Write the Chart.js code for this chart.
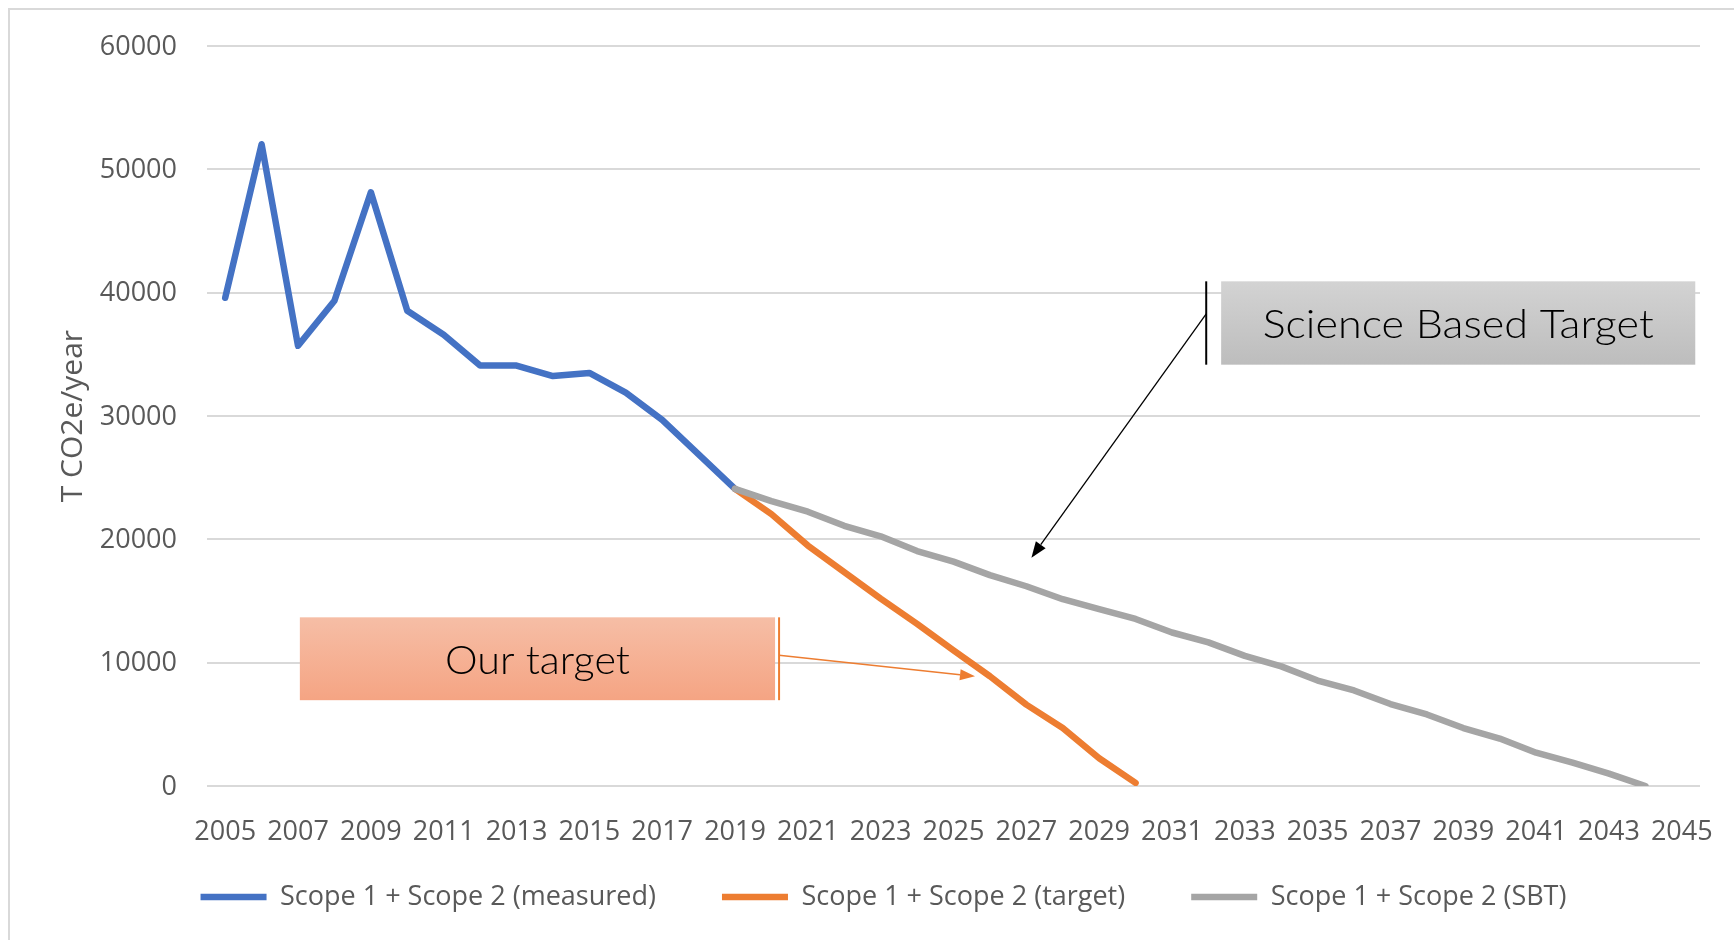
<!DOCTYPE html>
<html><head><meta charset="utf-8">
<script src="https://cdn.jsdelivr.net/npm/chart.js@4.4.1/dist/chart.umd.min.js"></script>
<style>html,body{margin:0;padding:0;background:#fff;overflow:hidden}#wrap{width:1734px;height:940px;position:relative}</style>
</head><body><div id="wrap"><canvas id="c" width="1734" height="940"></canvas></div>
<script>
const years = ['2005','2006','2007','2008','2009','2010','2011','2012','2013','2014','2015','2016','2017','2018','2019','2020','2021','2022','2023','2024','2025','2026','2027','2028','2029','2030','2031','2032','2033','2034','2035','2036','2037','2038','2039','2040','2041','2042','2043','2044','2045'];
const measured = [39600,52050,35700,39350,48150,38550,36600,34100,34100,33250,33500,31900,29700,26900,24100,
  null,null,null,null,null,null,null,null,null,null,null,null,null,null,null,null,null,null,null,null,null,null,null,null,null,null];
const target = [null,null,null,null,null,null,null,null,null,null,null,null,null,null,
  24100,22050,19500,17350,15200,13150,11000,8900,6600,4700,2250,250,
  null,null,null,null,null,null,null,null,null,null,null,null,null,null,null];
const sbt = [null,null,null,null,null,null,null,null,null,null,null,null,null,null,
  24100,23100,22250,21100,20250,19050,18200,17100,16200,15150,14350,13550,12450,11650,10550,9700,8550,7750,6650,5800,4700,3850,2700,1900,1000,0,
  null];
const seriesNames = ['Scope 1 + Scope 2 (measured)','Scope 1 + Scope 2 (target)','Scope 1 + Scope 2 (SBT)'];
const yTicks = {min:0, max:60000, step:10000};
const yTitle = 'T CO2e/year';
const callouts = [
  {text:'Science Based Target', box:[27.35,40.37,40930,34170], bar:26.94, from:[26.94,38300], to:[22.14,18520], fill:['#d3d3d3','#bdbdbd'], line:'#000000', lw:1.3, textW:391, head:[16,12]},
  {text:'Our target', box:[2.05,15.1,13680,6960], bar:15.21, from:[15.21,10610], to:[20.59,8900], fill:['#f6bea6','#f5a483'], line:'#ED7D31', lw:1.5, textW:185, head:[15,11]}
];

const FONT = "'Open Sans', 'Noto Sans', sans-serif";
const GREY = '#595959';
const LEGEND_CENTER_Y = 897;

const frame = {
  id:'frame',
  beforeDraw(chart){
    const ctx = chart.ctx;
    ctx.save();
    ctx.fillStyle = '#ffffff';
    ctx.fillRect(0,0,chart.width,chart.height);
    ctx.strokeStyle = '#d9d9d9';
    ctx.lineWidth = 2;
    ctx.beginPath();
    ctx.moveTo(9, chart.height); ctx.lineTo(9, 9); ctx.lineTo(chart.width, 9);
    ctx.stroke();
    ctx.restore();
  }
};

const legendShift = {
  id:'legendShift',
  afterLayout(chart){
    const L = chart.legend;
    if (!L) return;
    const P = L.options.labels.padding;
    const fs = L.options.labels.font.size;
    const cur = L.top + P + fs/2;
    const dy = LEGEND_CENTER_Y - cur;
    L.top += dy; L.bottom += dy;
  }
};

function arrow(ctx, x0, y0, x1, y1, color, lw, head){
  const ang = Math.atan2(y1-y0, x1-x0);
  const L = head[0], W = head[1]/2;
  const bx = x1 - L*Math.cos(ang), by = y1 - L*Math.sin(ang);
  ctx.strokeStyle = color; ctx.lineWidth = lw;
  ctx.beginPath(); ctx.moveTo(x0,y0); ctx.lineTo(bx,by); ctx.stroke();
  ctx.fillStyle = color;
  ctx.beginPath();
  ctx.moveTo(x1,y1);
  ctx.lineTo(bx + W*Math.sin(ang), by - W*Math.cos(ang));
  ctx.lineTo(bx - W*Math.sin(ang), by + W*Math.cos(ang));
  ctx.closePath(); ctx.fill();
}

const annot = {
  id:'annot',
  afterDatasetsDraw(chart){
    const {ctx, scales:{x, y}} = chart;
    const X = v => x.getPixelForValue(v), Y = v => y.getPixelForValue(v);
    ctx.save();
    callouts.forEach(c => {
      const x0 = X(c.box[0]), x1 = X(c.box[1]), y0 = Y(c.box[2]), y1 = Y(c.box[3]);
      const g = ctx.createLinearGradient(0, y0, 0, y1);
      g.addColorStop(0, c.fill[0]); g.addColorStop(1, c.fill[1]);
      ctx.fillStyle = g;
      ctx.fillRect(x0, y0, x1-x0, y1-y0);
      const bx = X(c.bar);
      ctx.strokeStyle = c.line; ctx.lineWidth = 2;
      ctx.beginPath(); ctx.moveTo(bx, y0); ctx.lineTo(bx, y1); ctx.stroke();
      arrow(ctx, X(c.from[0]), Y(c.from[1]), X(c.to[0]), Y(c.to[1]), c.line, c.lw, c.head);
      ctx.font = "300 40px Lato, 'Noto Sans', sans-serif";
      const w = ctx.measureText(c.text).width;
      const sx = c.textW / w;
      ctx.save();
      ctx.translate((x0+x1)/2, (y0+y1)/2 + 2);
      ctx.scale(sx, 1);
      ctx.fillStyle = '#000000';
      ctx.textAlign = 'center'; ctx.textBaseline = 'middle';
      ctx.fillText(c.text, 0, 0);
      ctx.restore();
    });
    ctx.restore();
  }
};

const common = {pointRadius:0, pointHoverRadius:0, borderWidth:6.5, borderCapStyle:'round', borderJoinStyle:'round', tension:0, fill:false, spanGaps:false};

new Chart(document.getElementById('c'), {
  type:'line',
  data:{
    labels: years,
    datasets:[
      Object.assign({label:seriesNames[0], data:measured, borderColor:'#4472C4', backgroundColor:'#4472C4', order:3}, common),
      Object.assign({label:seriesNames[1], data:target, borderColor:'#ED7D31', backgroundColor:'#ED7D31', order:2}, common),
      Object.assign({label:seriesNames[2], data:sbt, borderColor:'#A5A5A5', backgroundColor:'#A5A5A5', order:1}, common)
    ]
  },
  options:{
    responsive:false, animation:false, devicePixelRatio:1,
    layout:{padding:{left:67, right:34, top:45, bottom:-15}},
    plugins:{
      tooltip:{enabled:false},
      legend:{
        position:'bottom',
        labels:{
          font:{family:FONT, size:27}, color:GREY,
          usePointStyle:true, pointStyle:'line', pointStyleWidth:66, boxHeight:7,
          padding:66,
          sort:(a,b)=>a.datasetIndex-b.datasetIndex
        }
      }
    },
    scales:{
      x:{
        type:'category', offset:true,
        grid:{display:false, drawTicks:false},
        border:{display:false},
        ticks:{autoSkip:false, maxRotation:0, minRotation:0, padding:20, color:GREY, font:{family:FONT, size:27, lineHeight:1.93},
          callback:(v,i)=> (i%2===0 ? years[i] : null)},
        afterFit:(s)=>{ s.height = 66; }
      },
      y:{
        min:yTicks.min, max:yTicks.max,
        grid:{color:'#d9d9d9', lineWidth:2, drawTicks:false},
        border:{display:false},
        ticks:{stepSize:yTicks.step, padding:30, labelOffset:1, color:GREY, font:{family:FONT, size:27}, callback:(v)=>String(v)},
        title:{display:true, text:yTitle, color:GREY, font:{family:FONT, size:30}, padding:{top:-12, bottom:0}},
        afterFit:(s)=>{ s.width = 140; }
      }
    }
  },
  plugins:[frame, legendShift, annot]
});
</script></body></html>
